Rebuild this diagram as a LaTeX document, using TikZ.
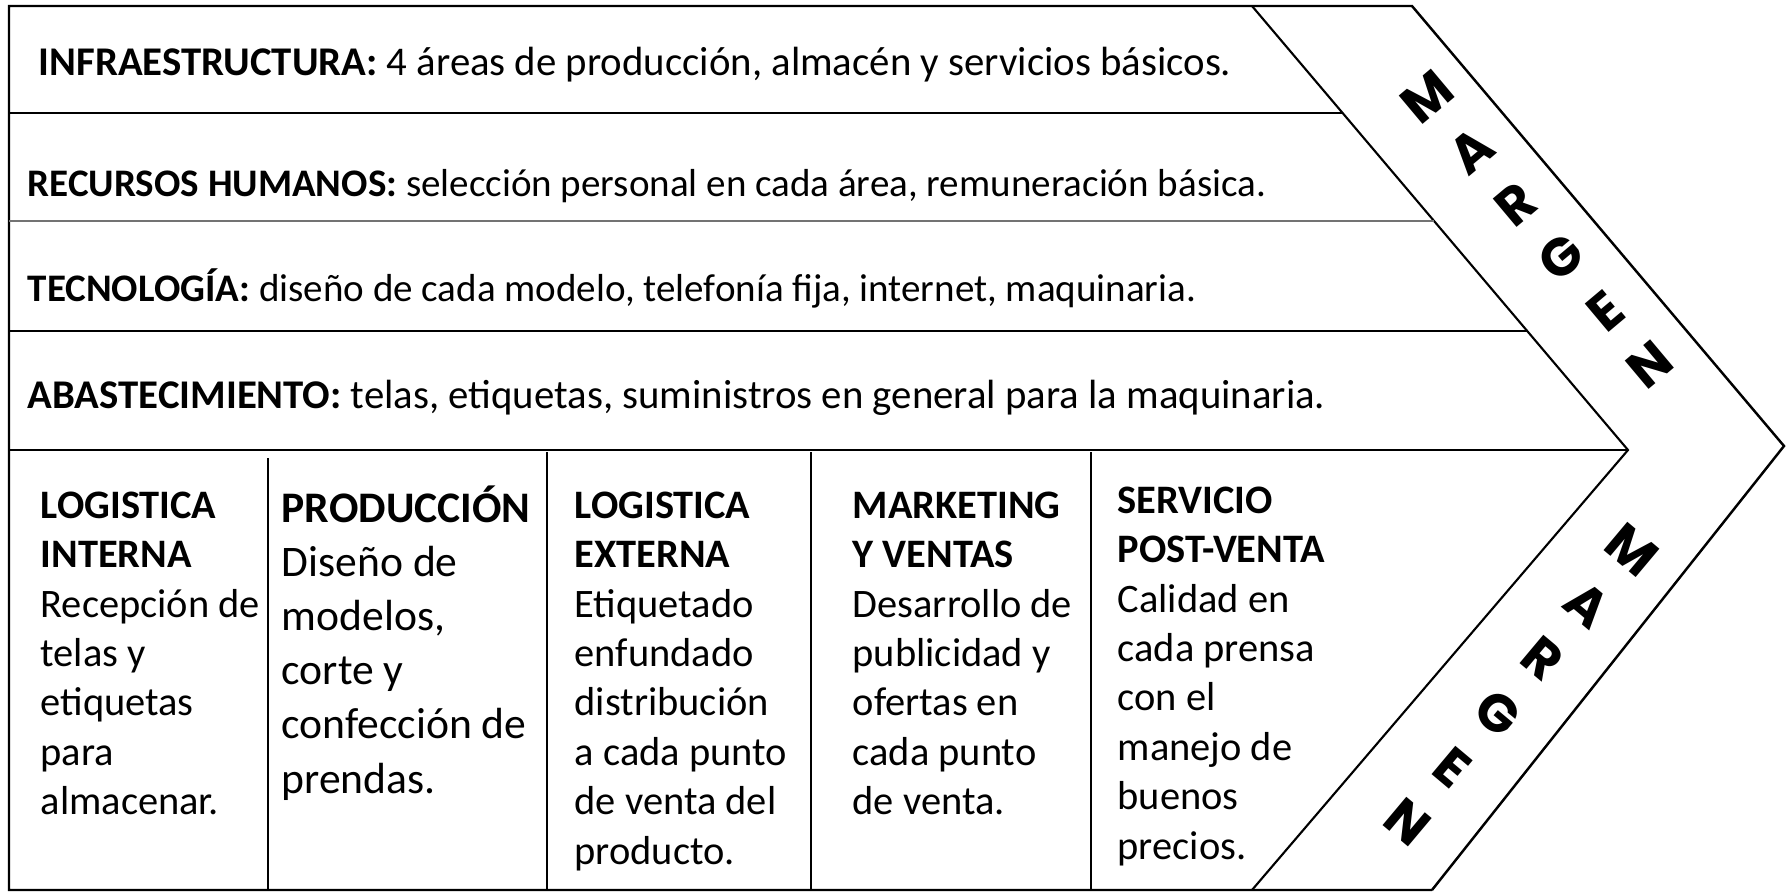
\documentclass[tikz,border=0pt]{standalone}
\usepackage{fontspec}
\setmainfont{Carlito}
\newfontfamily\bandfont{Poppins}
\usetikzlibrary{positioning,calc}

\begin{document}
\begin{tikzpicture}[x=0.01cm, y=-0.01cm,
    row/.style={anchor=base west, inner sep=0pt, font=\fontsize{11.6}{14}\selectfont},
    col/.style={anchor=north west, inner sep=0pt, align=left, font=\fontsize{11.5}{14.05}\selectfont},
    bigcol/.style={col, font=\fontsize{12.4}{15.4}\selectfont},
    letra/.style={inner sep=0pt, font=\bandfont\bfseries\fontsize{15}{15}\selectfont},
    frame/.style={line width=0.7pt},
    diag/.style={line width=0.6pt},
    sep/.style={line width=0.45pt},
    vsep/.style={line width=0.4pt}]
    \useasboundingbox (0,0) rectangle (1787,893);

    % corners of the chevron
    \coordinate (tl) at (9,6);
    \coordinate (bl) at (9,890);
    \coordinate (ti) at (1252,6);
    \coordinate (to) at (1412,6);
    \coordinate (pi) at (1628,450);
    \coordinate (po) at (1784,446);
    \coordinate (bi) at (1252,890);
    \coordinate (bo) at (1432,890);

    % row separators end on the inner diagonal
    \coordinate (h1) at ($(ti)!0.241!(pi)$);
    \coordinate (h2) at ($(ti)!0.484!(pi)$);
    \coordinate (h3) at ($(ti)!0.732!(pi)$);

    \draw [frame] (bo) -- (bl) -- (tl) -- (to) -- (po) -- (bo);
    \draw [diag] (ti) -- (pi) -- (bi);
    \draw [sep] (tl |- h1) -- (h1);
    \draw [sep, black!55] (tl |- h2) -- (h2);
    \draw [sep] (tl |- h3) -- (h3);
    \draw [sep] (tl |- pi) -- (pi);
    \draw [vsep] (268,458) -- (268,890);
    \foreach \x in {547,811,1091}
        \draw [vsep] (\x,452) -- (\x,890);

    % support activities
    \node [row] (infra) at (38,75) {\textbf{INFRAESTRUCTURA:} 4 áreas de producción, almacén y servicios básicos.};
    \node [row, font=\fontsize{11.1}{14}\selectfont] (rrhh) at (27,196) {\textbf{RECURSOS HUMANOS:} selección personal en cada área, remuneración básica.};
    \node [row, font=\fontsize{11.1}{14}\selectfont] (tec) at (27,301) {\textbf{TECNOLOGÍA:} diseño de cada modelo, telefonía fija, internet, maquinaria.};
    \node [row] (abast) at (27,408) {\textbf{ABASTECIMIENTO:} telas, etiquetas, suministros en general para la maquinaria.};

    % primary activities
    \node [col] (logint) at (40,491) {\textbf{LOGISTICA}\\\textbf{INTERNA}\\Recepción de\\telas y\\etiquetas\\para\\almacenar.};
    \node [bigcol] (prod) at (281,485) {\textbf{PRODUCCIÓN}\\Diseño de\\modelos,\\corte y\\confección de\\prendas.};
    \node [col] (logext) at (574,491) {\textbf{LOGISTICA}\\\textbf{EXTERNA}\\Etiquetado\\enfundado\\distribución\\a cada punto\\de venta del\\producto.};
    \node [col] (mkt) at (852,491) {\textbf{MARKETING}\\\textbf{Y VENTAS}\\Desarrollo de\\publicidad y\\ofertas en\\cada punto\\de venta.};
    \node [col] (serv) at (1117,486) {\textbf{SERVICIO}\\\textbf{POST-VENTA}\\Calidad en\\cada prensa\\con el\\manejo de\\buenos\\precios.};

    % margen
    \foreach \l [count=\i from 0] in {M,A,R,G,E,N}
        \node [letra, rotate=40] (up\i) at ($(1427,97)+\i*(44.6,53.6)$) {\l};
    \foreach \l [count=\i from 0] in {M,A,R,G,E,N}
        \node [letra, rotate=-40] (dn\i) at ($(1632,550)+\i*(-44.8,54.4)$) {\l};
\end{tikzpicture}
\end{document}
